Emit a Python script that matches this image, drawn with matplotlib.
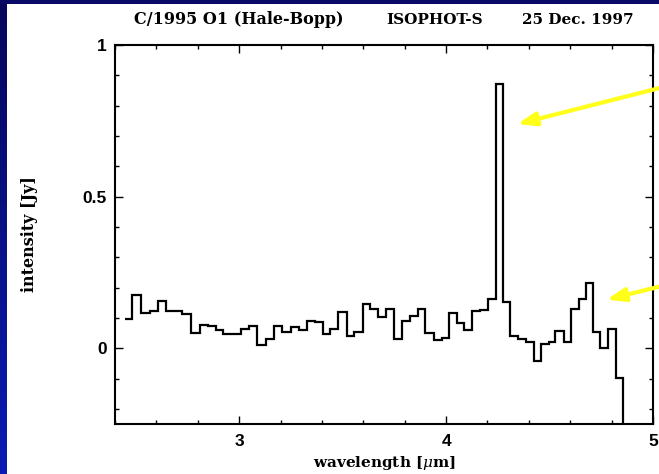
import numpy as np
import matplotlib
matplotlib.use("Agg")
from matplotlib import pyplot as plt
from matplotlib.colors import LinearSegmentedColormap
from matplotlib.ticker import MultipleLocator, FuncFormatter

# ISOPHOT-S pixel edges [um] and intensities [Jy]
edges = [2.447, 2.484, 2.525, 2.568, 2.610, 2.648, 2.688, 2.726, 2.768, 2.809,
         2.849, 2.887, 2.924, 2.966, 3.008, 3.048, 3.088, 3.128, 3.169, 3.209,
         3.250, 3.290, 3.330, 3.368, 3.403, 3.440, 3.479, 3.519, 3.556, 3.597,
         3.631, 3.669, 3.709, 3.750, 3.787, 3.825, 3.862, 3.899, 3.940, 3.978,
         4.015, 4.051, 4.088, 4.124, 4.163, 4.201, 4.240, 4.274, 4.310, 4.348,
         4.384, 4.423, 4.460, 4.497, 4.528, 4.568, 4.606, 4.640, 4.677, 4.710,
         4.745, 4.781, 4.819, 4.854, 4.890]
intensity = [0.095, 0.175, 0.117, 0.123, 0.156, 0.122, 0.122, 0.112, 0.050, 0.076,
             0.073, 0.059, 0.046, 0.046, 0.062, 0.073, 0.010, 0.029, 0.074, 0.054,
             0.070, 0.059, 0.089, 0.086, 0.046, 0.062, 0.119, 0.040, 0.053, 0.147,
             0.128, 0.103, 0.128, 0.029, 0.089, 0.107, 0.129, 0.050, 0.026, 0.032,
             0.117, 0.083, 0.059, 0.123, 0.125, 0.162, 0.870, 0.153, 0.040, 0.030,
             0.021, -0.042, 0.013, 0.019, 0.056, 0.021, 0.130, 0.161, 0.216, 0.055,
             0.000, 0.062, -0.098, -0.400]

title_parts = ["C/1995 O1 (Hale-Bopp)", "ISOPHOT-S", "25 Dec. 1997"]
title_x = [0.362, 0.660, 0.877]

# arrow tips (data) for the CO2 band and the CO band
arrow_tips = [(4.344, 0.739), (4.775, 0.160)]
arrow_tails = [(1.0, 0.814), (1.0, 0.395)]

serif = "DejaVu Serif"
plt.rcParams["mathtext.fontset"] = "dejavuserif"

fig = plt.figure(figsize=(6.59, 4.74), dpi=100)
fig.patch.set_facecolor("white")

# blue slide frame on the left and top
cmap = LinearSegmentedColormap.from_list("frame", ["#06065a", "#0a1cb4"])
left = fig.add_axes([0, 0, 7 / 659, 1])
left.imshow(np.linspace(0, 1, 100).reshape(-1, 1), cmap=cmap, aspect="auto")
left.axis("off")
top = fig.add_axes([0, 1 - 4 / 474, 1, 4 / 474])
top.set_facecolor("#0a0a66")
top.set_xticks([])
top.set_yticks([])
for s in top.spines.values():
    s.set_visible(False)

ax = fig.add_axes([115 / 659, 1 - 424 / 474, 538 / 659, 379 / 474])
ax.stairs(intensity, edges, baseline=None, color="black", linewidth=1.6)

ax.set_xlim(2.4, 5.0)
ax.set_ylim(-0.25, 1.0)
ax.xaxis.set_major_locator(MultipleLocator(1))
ax.xaxis.set_minor_locator(MultipleLocator(0.2))
ax.yaxis.set_major_locator(MultipleLocator(0.5))
ax.yaxis.set_minor_locator(MultipleLocator(0.1))
ax.yaxis.set_major_formatter(FuncFormatter(lambda v, p: f"{v:g}"))
ax.tick_params(which="both", direction="in", top=True, right=True, width=1.0)
ax.tick_params(which="major", length=5.5)
ax.tick_params(which="minor", length=3)
ax.tick_params(axis="x", pad=7)
ax.tick_params(axis="y", pad=6)
for lab in ax.get_xticklabels() + ax.get_yticklabels():
    lab.set_fontfamily("Liberation Sans")
    lab.set_fontweight("bold")
    lab.set_fontsize(12.5)
for s in ax.spines.values():
    s.set_linewidth(1.5)

ax.set_xlabel(r"wavelength [$\mu$m]", fontfamily=serif, fontweight="bold",
              fontsize=11, labelpad=4)
ax.set_ylabel("intensity [Jy]", fontfamily=serif, fontweight="bold",
              fontsize=11.5, labelpad=32)

for txt, x in zip(title_parts, title_x):
    fig.text(x, 1 - 20 / 474, txt, ha="center", va="center",
             fontfamily=serif, fontweight="bold", fontsize=11.5 if x < 0.5 else 11)

for tip, tail in zip(arrow_tips, arrow_tails):
    ax.annotate("", xy=tip, xycoords="data", xytext=tail,
                textcoords="figure fraction",
                arrowprops=dict(arrowstyle="-|>,head_length=1.1,head_width=0.4",
                                color="#ffff1a", lw=3, shrinkA=0, shrinkB=0),
                annotation_clip=False)

fig.savefig("out.png", dpi=100)
